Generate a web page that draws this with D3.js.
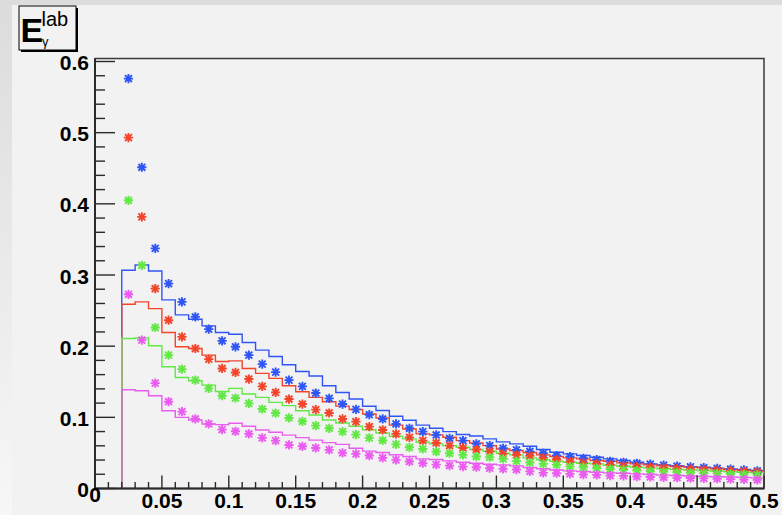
<!DOCTYPE html>
<html>
<head>
<meta charset="utf-8">
<script src="https://cdn.jsdelivr.net/npm/d3@7"></script>
<style>
  html, body { margin: 0; padding: 0; background: #dcdcdc; }
  svg { display: block; }
</style>
</head>
<body>
<svg id="chart" width="782" height="515"></svg>
<script>
// Photon lab-energy spectra: histograms (steps, bin width 0.01 from 0.02 to 0.50)
// and the corresponding point sets (asterisks at bin centres).
const binLow = d3.range(48).map(i => +(0.02 + 0.01 * i).toFixed(2));
const binCenters = binLow.map(v => +(v + 0.005).toFixed(3));

const histBlue = [0.3066, 0.314, 0.3056, 0.265, 0.2439, 0.2379, 0.2285, 0.2191, 0.2168, 0.2051,
  0.1944, 0.1855, 0.1738, 0.1645, 0.158, 0.1444, 0.135, 0.1257, 0.1155, 0.1095,
  0.1015, 0.0958, 0.089, 0.0846, 0.0799, 0.0758, 0.0738, 0.0697, 0.0655, 0.0627,
  0.0593, 0.0547, 0.0509, 0.0486, 0.0463, 0.0439, 0.0416, 0.0393, 0.0369, 0.0346,
  0.0332, 0.0322, 0.0308, 0.0299, 0.0285, 0.0276, 0.0266, 0.0252];
const histRed = [0.259, 0.2622, 0.2528, 0.2191, 0.1991, 0.1967, 0.1874, 0.1785, 0.1794, 0.1687,
  0.1617, 0.1547, 0.1444, 0.136, 0.128, 0.122, 0.1158, 0.111, 0.1047, 0.0991,
  0.089, 0.0836, 0.0767, 0.0753, 0.072, 0.0673, 0.064, 0.0603, 0.0556, 0.0533,
  0.0505, 0.0472, 0.0449, 0.043, 0.0416, 0.0393, 0.0383, 0.036, 0.0346, 0.0332,
  0.0318, 0.031, 0.03, 0.029, 0.0278, 0.0268, 0.0257, 0.0245];
const histGreen = [0.2108, 0.2115, 0.2005, 0.171, 0.156, 0.1514, 0.1453, 0.1364, 0.1407, 0.1327,
  0.128, 0.121, 0.1164, 0.1093, 0.1033, 0.0963, 0.092, 0.0875, 0.0825, 0.078,
  0.0735, 0.0697, 0.0649, 0.0627, 0.0603, 0.0579, 0.0547, 0.0523, 0.0495, 0.0472,
  0.043, 0.0405, 0.0383, 0.0369, 0.0355, 0.0346, 0.0327, 0.0313, 0.0299, 0.029,
  0.0278, 0.0268, 0.026, 0.0252, 0.0245, 0.0236, 0.0228, 0.022];
const histPink = [0.1388, 0.1374, 0.1304, 0.1093, 0.1, 0.0963, 0.0907, 0.0897, 0.0916, 0.0874,
  0.0823, 0.079, 0.075, 0.0715, 0.068, 0.0645, 0.062, 0.0565, 0.0525, 0.0505,
  0.0475, 0.045, 0.0416, 0.0407, 0.0388, 0.0369, 0.0355, 0.0341, 0.0332, 0.0318,
  0.0296, 0.0278, 0.026, 0.0248, 0.0238, 0.0229, 0.022, 0.0215, 0.0206, 0.0196,
  0.0188, 0.0182, 0.0176, 0.0171, 0.0166, 0.0161, 0.0156, 0.015];

const ptsBlue = [0.576, 0.4514, 0.3374, 0.2879, 0.2622, 0.2411, 0.2239, 0.2075, 0.1991, 0.1874,
  0.1748, 0.1635, 0.1523, 0.1435, 0.1341, 0.1266, 0.1187, 0.1112, 0.1037, 0.0977,
  0.0907, 0.0846, 0.0799, 0.0753, 0.0705, 0.0673, 0.0627, 0.0603, 0.0565, 0.0543,
  0.052, 0.0495, 0.0463, 0.0449, 0.0425, 0.0407, 0.0383, 0.0369, 0.0355, 0.0342,
  0.0328, 0.0314, 0.0304, 0.0294, 0.0284, 0.0274, 0.0262, 0.0249];
const ptsRed = [0.493, 0.3817, 0.2808, 0.2365, 0.2131, 0.1967, 0.1818, 0.1687, 0.1631, 0.1538,
  0.1435, 0.135, 0.1257, 0.1187, 0.1108, 0.1061, 0.0977, 0.0939, 0.0869, 0.0823,
  0.0767, 0.0719, 0.0673, 0.064, 0.0603, 0.057, 0.0547, 0.0519, 0.0486, 0.0472,
  0.0458, 0.043, 0.0407, 0.0379, 0.036, 0.0346, 0.0332, 0.0318, 0.0308, 0.0299,
  0.0289, 0.028, 0.0271, 0.0263, 0.0255, 0.0247, 0.0239, 0.023];
const ptsGreen = [0.405, 0.3136, 0.2262, 0.1874, 0.1678, 0.1523, 0.1407, 0.1304, 0.1271, 0.1196,
  0.1117, 0.106, 0.0991, 0.0944, 0.0883, 0.0846, 0.0799, 0.0757, 0.0711, 0.0675,
  0.062, 0.0579, 0.0556, 0.0519, 0.0495, 0.0472, 0.0449, 0.0439, 0.0416, 0.0385,
  0.0365, 0.0346, 0.0332, 0.0308, 0.0299, 0.0285, 0.0271, 0.0262, 0.0252, 0.0243,
  0.0235, 0.0228, 0.0221, 0.0215, 0.0209, 0.0203, 0.0197, 0.0192];
const ptsPink = [0.2729, 0.2085, 0.1481, 0.122, 0.108, 0.0977, 0.0907, 0.0827, 0.0804, 0.0767,
  0.0711, 0.0673, 0.0612, 0.0593, 0.057, 0.0543, 0.05, 0.0486, 0.0463, 0.043,
  0.0402, 0.0379, 0.0355, 0.0336, 0.0322, 0.0308, 0.0299, 0.0285, 0.0276, 0.0266,
  0.024, 0.022, 0.0215, 0.0206, 0.0196, 0.0192, 0.0182, 0.0178, 0.0168, 0.0162,
  0.0157, 0.0152, 0.0147, 0.0142, 0.0137, 0.0132, 0.0127, 0.0122];

const seriesColors = ["#2f55f5", "#f2452a", "#62e845", "#ea5cf0"];
const histograms = [histBlue, histRed, histGreen, histPink];
const pointSets = [ptsBlue, ptsRed, ptsGreen, ptsPink];

const xTicks = [0, 0.05, 0.1, 0.15, 0.2, 0.25, 0.3, 0.35, 0.4, 0.45, 0.5];
const xTickLabels = ["0", "0.05", "0.1", "0.15", "0.2", "0.25", "0.3", "0.35", "0.4", "0.45", "0.5"];
const yTicks = [0, 0.1, 0.2, 0.3, 0.4, 0.5, 0.6];
const yTickLabels = ["0", "0.1", "0.2", "0.3", "0.4", "0.5", "0.6"];
const xMax = 0.5, yMax = 0.6042, binWidth = 0.01;

const svg = d3.select("#chart");
const W = 782, H = 515;

// canvas background
const defs = svg.append("defs");
const grad = defs.append("linearGradient").attr("id", "edge").attr("x1", 0).attr("y1", 0).attr("x2", 0).attr("y2", 1);
grad.append("stop").attr("offset", "0%").attr("stop-color", "#dcdcdc");
grad.append("stop").attr("offset", "100%").attr("stop-color", "#f7f7f7");
svg.append("rect").attr("width", W).attr("height", H).attr("fill", "#dcdcdc");
svg.append("rect").attr("x", 0).attr("y", 5).attr("width", 12).attr("height", H - 5).attr("fill", "url(#edge)");
svg.append("rect").attr("x", 12).attr("y", 5).attr("width", W - 12).attr("height", H - 5).attr("fill", "#f2f2f2");

const x = d3.scaleLinear().domain([0, xMax]).range([95, 764]);
const y = d3.scaleLinear().domain([0, 0.6]).range([488.5, 61.5]);

// frame
svg.append("rect")
  .attr("x", x(0)).attr("y", y(yMax))
  .attr("width", x(xMax) - x(0)).attr("height", y(0) - y(yMax))
  .attr("fill", "none").attr("stroke", "#3a3a3a").attr("stroke-width", 1.5);

// histograms (step outlines starting from zero at the first bin edge)
const stepLine = d3.line().curve(d3.curveStepAfter).x(d => x(d[0])).y(d => y(d[1]));
histograms.forEach((h, k) => {
  const pts = [[binLow[0], 0]];
  h.forEach((v, i) => pts.push([binLow[i], v]));
  pts.push([binLow[h.length - 1] + binWidth, h[h.length - 1]]);
  svg.append("path")
    .attr("d", stepLine(pts))
    .attr("fill", "none")
    .attr("stroke", seriesColors[k])
    .attr("stroke-width", 1.4);
});

// asterisk markers
const r = 4.6;
const starPath = `M${-r},0L${r},0M0,${-r}L0,${r}M${-r * 0.75},${-r * 0.75}L${r * 0.75},${r * 0.75}M${-r * 0.75},${r * 0.75}L${r * 0.75},${-r * 0.75}`;
pointSets.forEach((p, k) => {
  svg.append("g").selectAll("path")
    .data(p)
    .join("path")
    .attr("transform", (d, i) => `translate(${x(binCenters[i])},${y(d)})`)
    .attr("d", starPath)
    .attr("stroke", seriesColors[k])
    .attr("stroke-width", 1.9)
    .attr("fill", "none");
});

// axes: ticks drawn inside the frame
const axisColor = "#2a2a2a";
const yMinor = d3.range(0, 0.6001, 0.02);
svg.append("g").selectAll("line").data(yMinor).join("line")
  .attr("x1", x(0)).attr("x2", (d, i) => x(0) + (i % 5 === 0 ? 20 : 10))
  .attr("y1", d => y(d)).attr("y2", d => y(d))
  .attr("stroke", axisColor).attr("stroke-width", 1.4);
const xMinor = d3.range(0, 0.5001, 0.01);
svg.append("g").selectAll("line").data(xMinor).join("line")
  .attr("x1", d => x(d)).attr("x2", d => x(d))
  .attr("y1", y(0)).attr("y2", (d, i) => y(0) - (i % 5 === 0 ? 13 : 6.5))
  .attr("stroke", axisColor).attr("stroke-width", 1.4);
svg.append("line").attr("x1", x(0)).attr("x2", x(0)).attr("y1", y(0)).attr("y2", y(yMax))
  .attr("stroke", axisColor).attr("stroke-width", 2);
svg.append("line").attr("x1", x(0)).attr("x2", x(xMax)).attr("y1", y(0)).attr("y2", y(0))
  .attr("stroke", axisColor).attr("stroke-width", 2);

const labelFont = "'Liberation Sans', Arial, Helvetica, sans-serif";
svg.append("g").selectAll("text").data(yTicks).join("text")
  .attr("x", x(0) - 6).attr("y", d => y(d) + 8.5)
  .attr("text-anchor", "end")
  .attr("font-family", labelFont).attr("font-weight", "bold").attr("font-size", 21)
  .attr("fill", "#000")
  .text((d, i) => yTickLabels[i]);
svg.append("g").selectAll("text").data(xTicks).join("text")
  .attr("x", d => x(d)).attr("y", (d, i) => i === 0 ? 502 : 507.5)
  .attr("text-anchor", "middle")
  .attr("font-family", labelFont).attr("font-weight", "bold").attr("font-size", 21)
  .attr("fill", "#000")
  .text((d, i) => xTickLabels[i]);

// title box with shadow
const tb = svg.append("g");
tb.append("rect").attr("x", 21).attr("y", 8).attr("width", 57).attr("height", 44).attr("fill", "#000");
tb.append("rect").attr("x", 19).attr("y", 6).attr("width", 57).attr("height", 44)
  .attr("fill", "#f2f2f2").attr("stroke", "#000").attr("stroke-width", 1);
tb.append("text").attr("x", 20.5).attr("y", 42)
  .attr("font-family", labelFont).attr("font-weight", "bold").attr("font-size", 34).text("E");
tb.append("text").attr("x", 41.5).attr("y", 26)
  .attr("font-family", labelFont).attr("font-size", 20).text("lab");
tb.append("text").attr("x", 42).attr("y", 46)
  .attr("font-family", labelFont).attr("font-size", 13).text("γ");
</script>
</body>
</html>
